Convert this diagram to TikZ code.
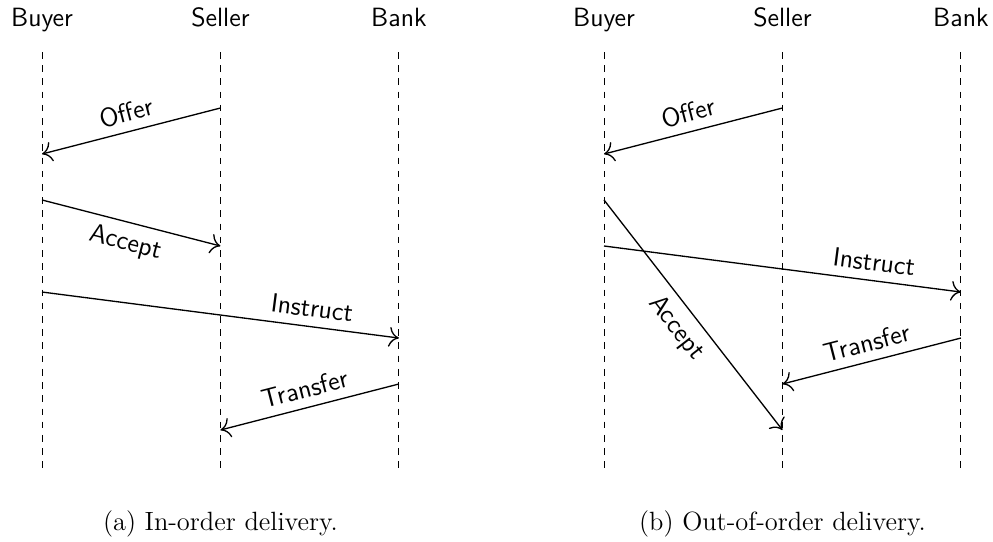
\documentclass[tikz,border=0pt,12pt]{standalone}
\usepackage{tikz}
\usetikzlibrary{arrows.meta}

\begin{document}
\begin{tikzpicture}[font=\sffamily, >={Computer Modern Rightarrow[length=4.5pt, width=9pt]}, semithick]
        \useasboundingbox (0, 0) rectangle (15.86, -8.641);

        \begin{scope}[xshift=0.671cm]
            \node[anchor=base] (a-buyer)  at (0.00, -0.423) {Buyer};
            \node[anchor=base] (a-seller) at (2.85, -0.423) {Seller};
            \node[anchor=base] (a-bank)   at (5.70, -0.423) {Bank};
            \draw[dashed, thin] (0.00, -0.831) to (0.00, -7.571);
            \draw[dashed, thin] (2.85, -0.831) to (2.85, -7.571);
            \draw[dashed, thin] (5.70, -0.831) to (5.70, -7.571);

            \coordinate (a-offer1)    at (2.85, -1.725);
            \coordinate (a-offer2)    at (0.00, -2.460);
            \coordinate (a-accept1)   at (0.00, -3.194);
            \coordinate (a-accept2)   at (2.85, -3.929);
            \coordinate (a-instruct1) at (0.00, -4.664);
            \coordinate (a-instruct2) at (5.70, -5.399);
            \coordinate (a-transfer1) at (5.70, -6.133);
            \coordinate (a-transfer2) at (2.85, -6.868);
            \draw[->] (a-offer1) to node[above, sloped] {Offer} (a-offer2);
            \draw[->] (a-accept1) to node[below, sloped] {Accept} (a-accept2);
            \draw[->] (a-instruct1) to node[pos=0.75, above, sloped] {Instruct} (a-instruct2);
            \draw[->] (a-transfer1) to node[above, sloped] {Transfer} (a-transfer2);

            \node[anchor=base, font=\rmfamily] (a-caption) at (2.85, -8.465) {(a) In-order delivery.};
        \end{scope}

        \begin{scope}[xshift=9.647cm]
            \node[anchor=base] (b-buyer)  at (0.00, -0.423) {Buyer};
            \node[anchor=base] (b-seller) at (2.85, -0.423) {Seller};
            \node[anchor=base] (b-bank)   at (5.70, -0.423) {Bank};
            \draw[dashed, thin] (0.00, -0.831) to (0.00, -7.571);
            \draw[dashed, thin] (2.85, -0.831) to (2.85, -7.571);
            \draw[dashed, thin] (5.70, -0.831) to (5.70, -7.571);

            \coordinate (b-offer1)    at (2.85, -1.725);
            \coordinate (b-offer2)    at (0.00, -2.460);
            \coordinate (b-accept1)   at (0.00, -3.194);
            \coordinate (b-accept2)   at (2.85, -6.868);
            \coordinate (b-instruct1) at (0.00, -3.929);
            \coordinate (b-instruct2) at (5.70, -4.664);
            \coordinate (b-transfer1) at (5.70, -5.399);
            \coordinate (b-transfer2) at (2.85, -6.133);
            \draw[->] (b-offer1) to node[above, sloped] {Offer} (b-offer2);
            \draw[->] (b-accept1) to node[below, sloped] {Accept} (b-accept2);
            \draw[->] (b-instruct1) to node[pos=0.75, above, sloped] {Instruct} (b-instruct2);
            \draw[->] (b-transfer1) to node[above, sloped] {Transfer} (b-transfer2);

            \node[anchor=base, font=\rmfamily] (b-caption) at (2.85, -8.465) {(b) Out-of-order delivery.};
        \end{scope}
    \end{tikzpicture}
\end{document}
